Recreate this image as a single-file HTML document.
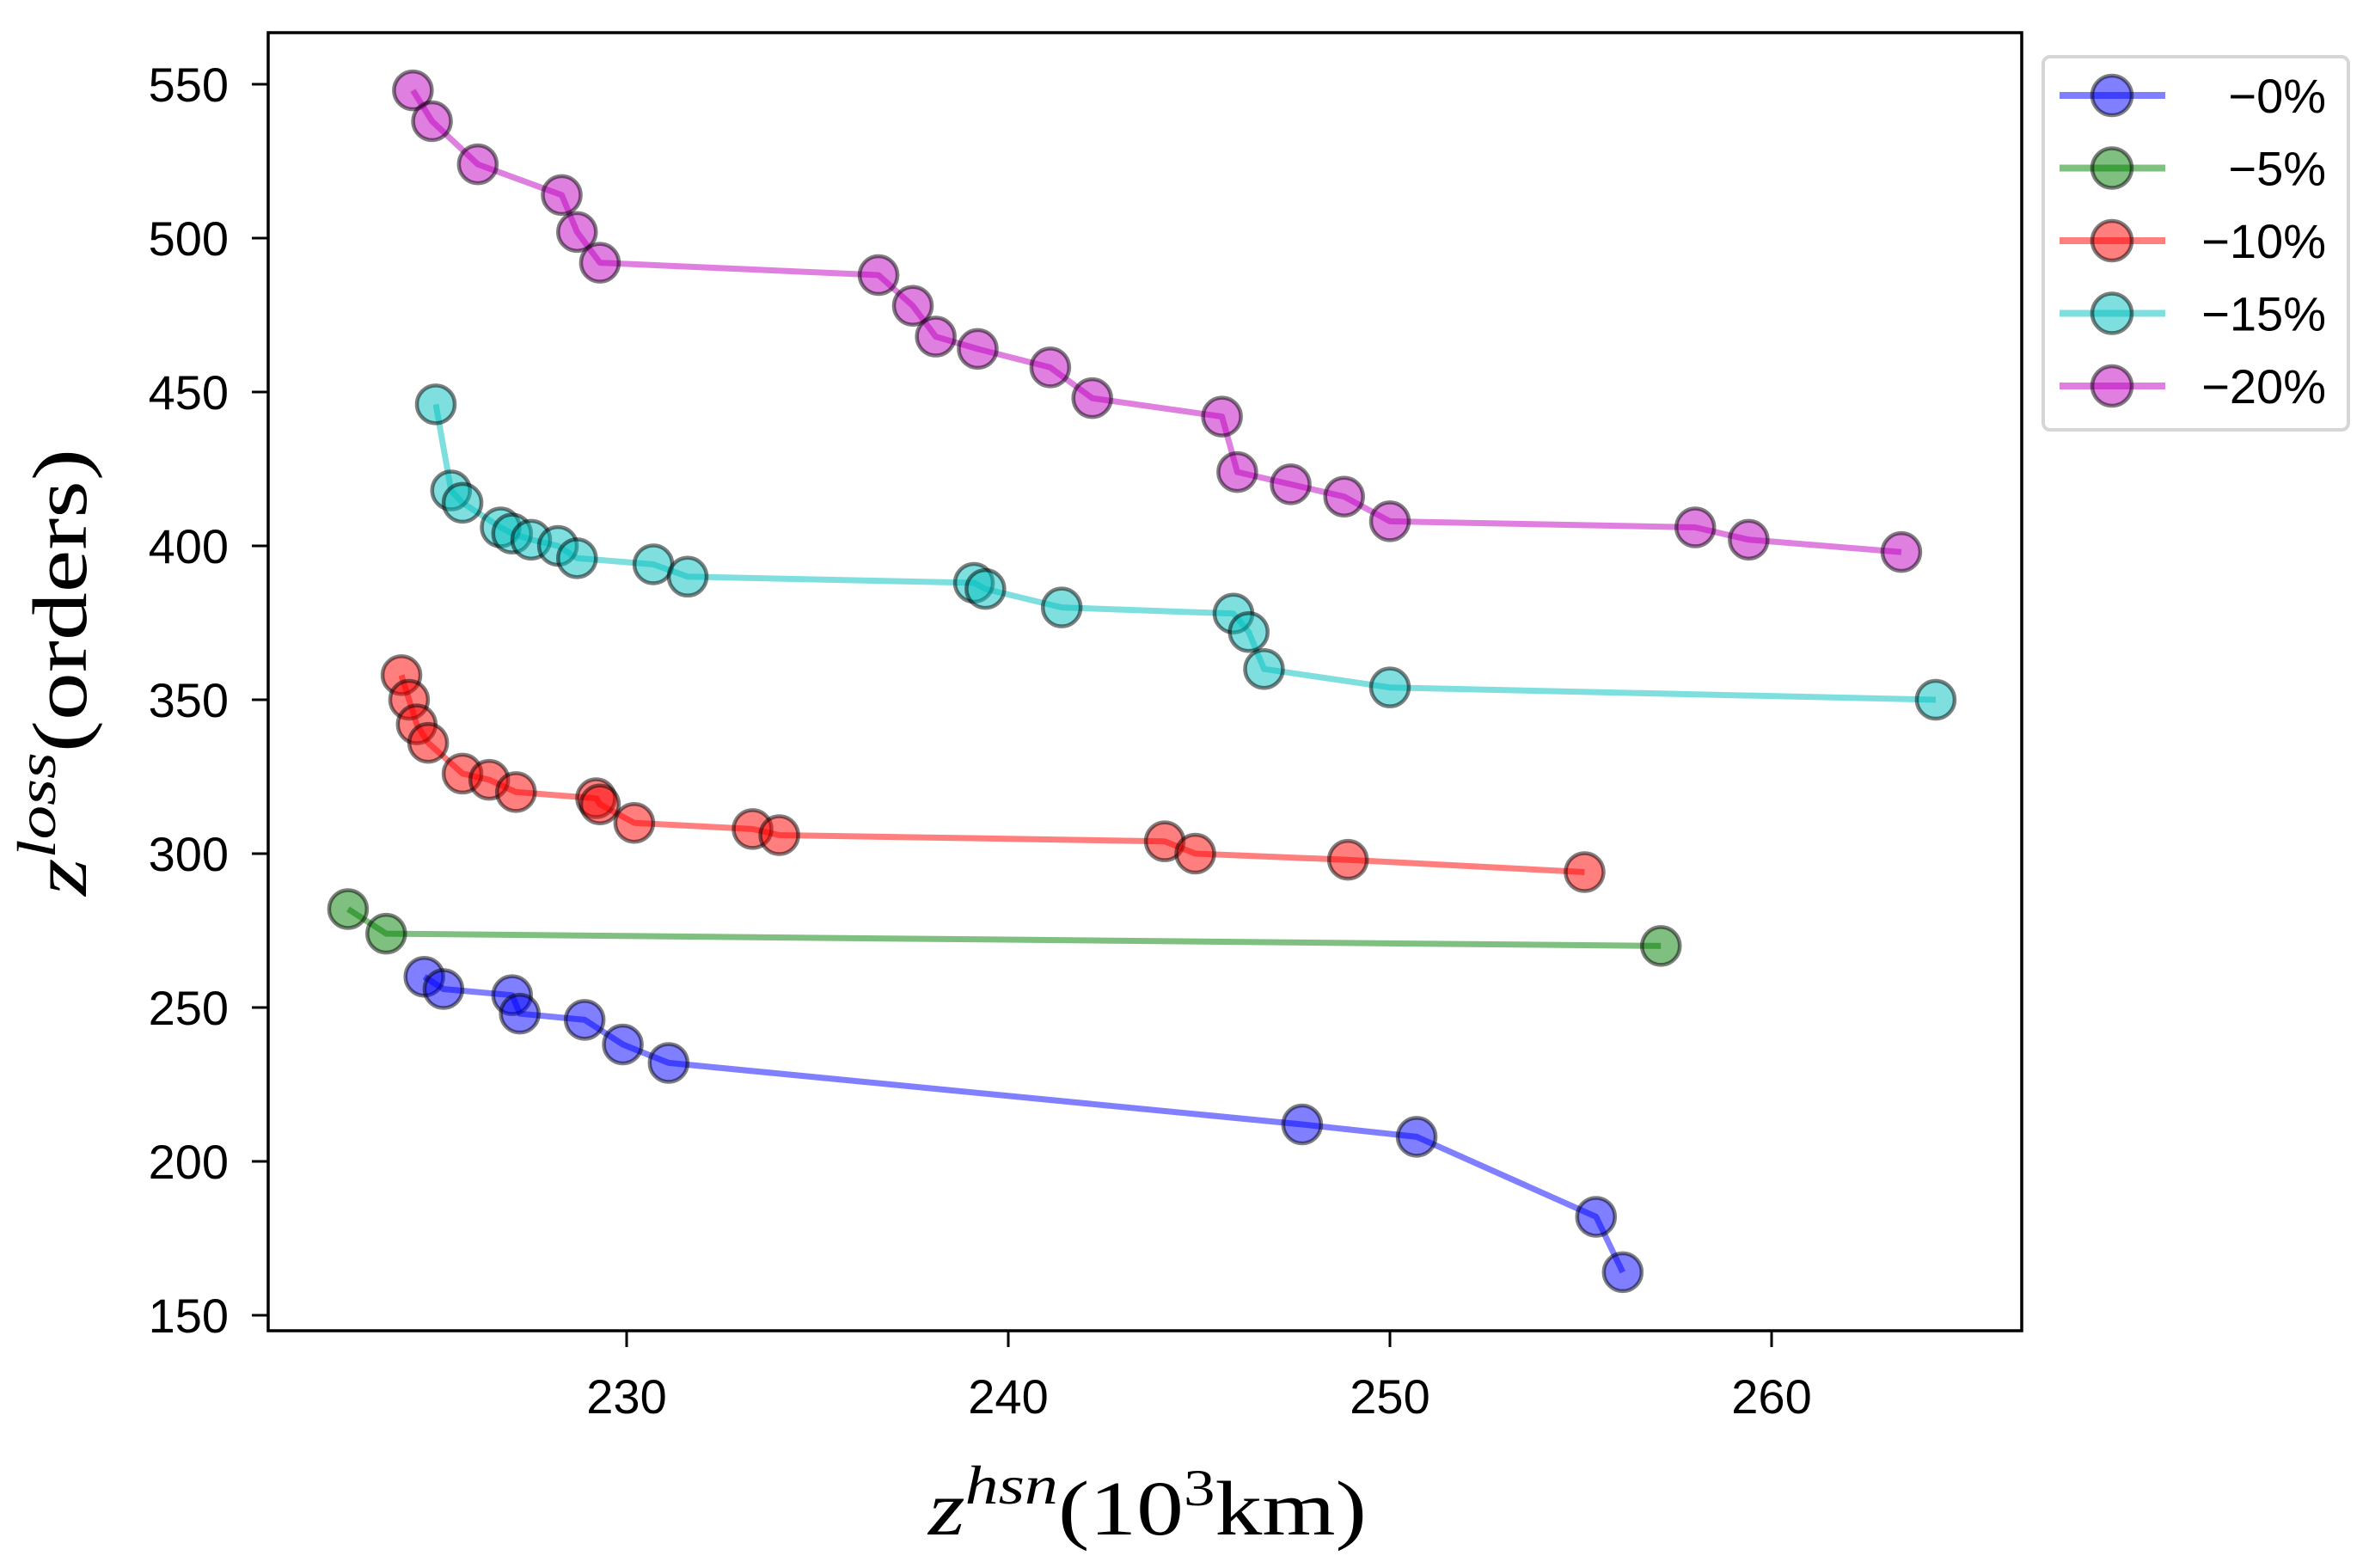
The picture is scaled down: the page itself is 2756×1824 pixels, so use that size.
<!DOCTYPE html>
<html><head><meta charset="utf-8"><style>
html,body{margin:0;padding:0;background:#fff;}
svg{display:block;}
</style></head><body>
<svg id="chart" width="2756" height="1824" viewBox="0 0 2756 1824" xmlns="http://www.w3.org/2000/svg">
<rect x="0" y="0" width="2756" height="1824" fill="#fff"/>
<g id="series"></g>
<g id="axes"></g>
<text x="1080" y="1785" textLength="510" lengthAdjust="spacingAndGlyphs" font-family="Liberation Serif, serif" font-size="90"><tspan font-style="italic">z</tspan><tspan font-style="italic" font-size="64" dy="-36">hsn</tspan><tspan dy="36">(10</tspan><tspan font-size="60" dy="-34">3</tspan><tspan dy="34">km)</tspan></text>
<text transform="translate(100,1042) rotate(-90)" x="0" y="0" textLength="520" lengthAdjust="spacingAndGlyphs" font-family="Liberation Serif, serif" font-size="90"><tspan font-style="italic">z</tspan><tspan font-style="italic" font-size="64" dy="-36">loss</tspan><tspan dy="36">(orders)</tspan></text>
<g id="legend"></g>
</svg>
<script>
const seriesLabels = ['\u22120%', '\u22125%', '\u221210%', '\u221215%', '\u221220%'];
const seriesColors = ['0,0,255', '0,128,0', '255,0,0', '0,191,191', '191,0,191'];
const xTicks = [230, 240, 250, 260];
const yTicks = [150, 200, 250, 300, 350, 400, 450, 500, 550];
const x0 = [224.7, 225.2, 227.0, 227.2, 228.9, 229.9, 231.1, 247.7, 250.7, 255.4, 256.1];
const y0 = [260, 256, 254, 248, 246, 238, 232, 212, 208, 182, 164];
const x5 = [222.7, 223.7, 257.1];
const y5 = [282, 274, 270];
const x10 = [224.1, 224.3, 224.5, 224.8, 225.7, 226.4, 227.1, 229.2, 229.3, 230.2, 233.3, 234.0, 244.1, 244.9, 248.9, 255.1];
const y10 = [358, 350, 342, 336, 326, 324, 320, 318, 316, 310, 308, 306, 304, 300, 298, 294];
const x15 = [225.0, 225.4, 225.7, 226.7, 227.0, 227.5, 228.2, 228.7, 230.7, 231.6, 239.1, 239.4, 241.4, 245.9, 246.3, 246.7, 250.0, 264.3];
const y15 = [446, 418, 414, 406, 404, 402, 400, 396, 394, 390, 388, 386, 380, 378, 372, 360, 354, 350];
const x20 = [224.4, 224.9, 226.1, 228.3, 228.7, 229.3, 236.6, 237.5, 238.1, 239.2, 241.1, 242.2, 245.6, 246.0, 247.4, 248.8, 250.0, 258.0, 259.4, 263.4];
const y20 = [548, 538, 524, 514, 502, 492, 488, 478, 468, 464, 458, 448, 442, 424, 420, 416, 408, 406, 402, 398];

const NS = 'http://www.w3.org/2000/svg';
const PL = 312, PR = 2352, PT = 38, PB = 1548;
function xs(v){ return 729 + (v - 230) * 44.4; }
function ys(v){ return 1530 - (v - 150) * 3.58; }
function mk(tag, attrs, parent){ const e = document.createElementNS(NS, tag); for (const k in attrs) e.setAttribute(k, attrs[k]); parent.appendChild(e); return e; }

const sg = document.getElementById('series');
const allX = [x0, x5, x10, x15, x20], allY = [y0, y5, y10, y15, y20];
const keys = ['0', '5', '10', '15', '20'];
allX.forEach((xa, i) => {
  const ya = allY[i];
  const g = mk('g', {}, sg);
  
  
  const pts = xa.map((v, j) => xs(v).toFixed(1) + ',' + ys(ya[j]).toFixed(1)).join(' ');
  const pl = mk('polyline', {points: pts, fill: 'none', stroke: 'rgba(' + seriesColors[i] + ',0.5)', 'stroke-width': 7, 'stroke-linejoin': 'round'}, g);
  
  
  xa.forEach((v, j) => {
    const c = mk('circle', {cx: xs(v), cy: ys(ya[j]), r: 22, fill: 'rgba(' + seriesColors[i] + ',0.5)', stroke: 'rgba(0,0,0,0.5)', 'stroke-width': 4.5}, g);
    
    
  });
});

const ag = document.getElementById('axes');
const frame = mk('rect', {x: PL, y: PT, width: PR - PL, height: PB - PT, fill: 'none', stroke: '#000', 'stroke-width': 3.5}, ag);


xTicks.forEach(t => {
  const l = mk('line', {x1: xs(t), x2: xs(t), y1: PB, y2: PB + 19, stroke: '#000', 'stroke-width': 3}, ag);
  
  
  const tx = mk('text', {x: xs(t), y: 1644, 'text-anchor': 'middle', 'font-family': 'Liberation Sans, sans-serif', 'font-size': 56}, ag);
  
  
  tx.textContent = t;
});
yTicks.forEach(t => {
  const l = mk('line', {x1: PL - 19, x2: PL, y1: ys(t), y2: ys(t), stroke: '#000', 'stroke-width': 3}, ag);
  
  
  const tx = mk('text', {x: 266, y: ys(t) + 20, 'text-anchor': 'end', 'font-family': 'Liberation Sans, sans-serif', 'font-size': 56}, ag);
  
  
  tx.textContent = t;
});

const lg = document.getElementById('legend');
const box = mk('rect', {x: 2377, y: 66, width: 355, height: 434, rx: 8, fill: '#fff', stroke: '#d6d6d6', 'stroke-width': 4}, lg);


seriesLabels.forEach((lab, i) => {
  const y = 111 + i * 84.5;
  const g = mk('g', {}, lg);
  
  
  mk('line', {x1: 2396, x2: 2519, y1: y, y2: y, stroke: 'rgba(' + seriesColors[i] + ',0.5)', 'stroke-width': 8}, g);
  mk('circle', {cx: 2457, cy: y, r: 23, fill: 'rgba(' + seriesColors[i] + ',0.5)', stroke: 'rgba(0,0,0,0.5)', 'stroke-width': 4.5}, g);
  const t = mk('text', {x: 2706, y: y + 20, 'text-anchor': 'end', 'font-family': 'Liberation Sans, sans-serif', 'font-size': 56}, g);
  
  
  t.textContent = lab;
});
</script>
</body></html>
